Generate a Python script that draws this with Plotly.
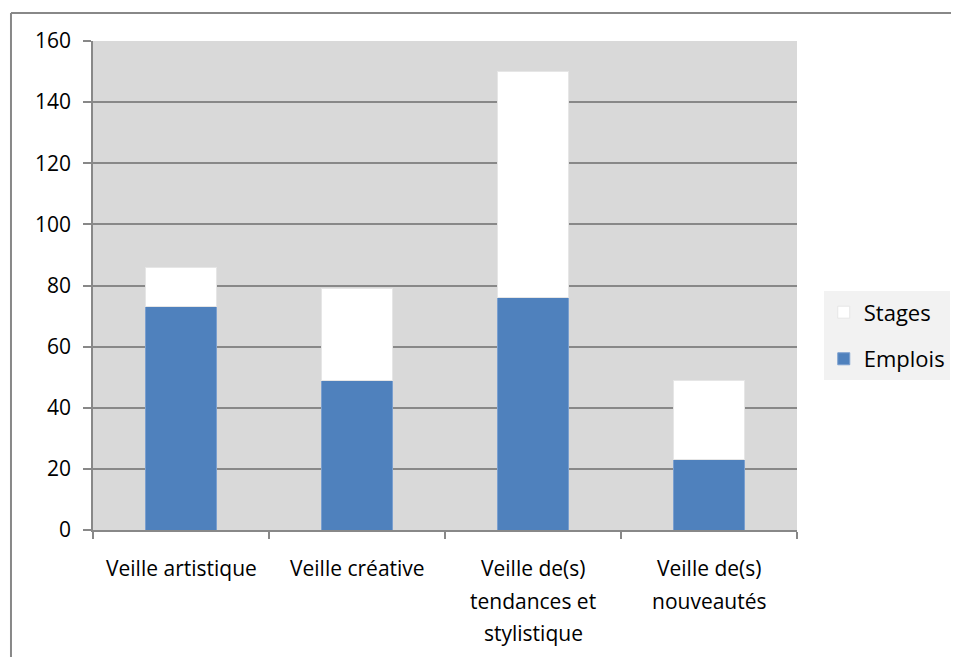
import plotly.graph_objects as go

categories = ["Veille artistique", "Veille créative", "Veille de(s) tendances et stylistique", "Veille de(s) nouveautés"]
label_lines = [["Veille artistique"], ["Veille créative"], ["Veille de(s)", "tendances et", "stylistique"], ["Veille de(s)", "nouveautés"]]
emplois = [73, 49, 76, 23]
stages = [13, 30, 74, 26]
y_ticks = [0, 20, 40, 60, 80, 100, 120, 140, 160]

FONT = "Open Sans"
FS = 21
GRID = "#888888"

fig = go.Figure()
fig.add_trace(go.Bar(x=categories, y=emplois, name="Emplois", legendgroup="e", legendrank=2,
                     marker=dict(color="#4F81BD", line=dict(color="#7A9FCF", width=1))))
fig.add_trace(go.Bar(x=categories, y=stages, name="Stages", legendgroup="s", legendrank=1,
                     marker=dict(color="#FFFFFF", line=dict(color="#E6E6E6", width=1))))

annotations = []
for cat, lines in zip(categories, label_lines):
    for i, line in enumerate(lines):
        annotations.append(dict(x=cat, xref="x", y=0, yref="paper", text=line,
                                showarrow=False, yanchor="middle", xanchor="center",
                                yshift=-38 - 32.5 * i,
                                font=dict(family=FONT, size=FS, color="#000000")))

fig.update_layout(
    width=959, height=657,
    margin=dict(l=85, r=170, t=33, b=135),
    paper_bgcolor="#FFFFFF", plot_bgcolor="#D9D9D9",
    barmode="stack", bargap=0.6,
    font=dict(family=FONT, size=FS, color="#000000"),
    showlegend=True,
    legend=dict(x=1.038, y=0.488, xanchor="left", yanchor="top",
                bgcolor="#F2F2F2", traceorder="grouped", tracegroupgap=15,
                font=dict(family=FONT, size=22, color="#000000")),
    annotations=annotations,
    shapes=[
        dict(type="line", xref="paper", yref="paper", x0=-0.1165, x1=1.5, y0=1.0573, y1=1.0573,
             line=dict(color=GRID, width=2)),
        dict(type="line", xref="paper", yref="paper", x0=-0.1165, x1=-0.1165, y0=1.0573, y1=-0.4,
             line=dict(color=GRID, width=2)),
    ],
)
fig.update_xaxes(showline=True, linecolor=GRID, linewidth=1.5, ticks="outside", tickson="boundaries",
                 ticklen=7, tickcolor=GRID, tickwidth=1.5, showticklabels=False, showgrid=False)
fig.update_yaxes(range=[0, 160], tickvals=y_ticks, showline=True, linecolor=GRID, linewidth=1.5,
                 ticks="outside", ticklen=8, tickcolor=GRID, tickwidth=1.5, gridcolor=GRID, gridwidth=1.5,
                 zeroline=False, ticklabelstandoff=8,
                 tickfont=dict(family=FONT, size=FS, color="#000000"))

fig.write_html("out.html")
